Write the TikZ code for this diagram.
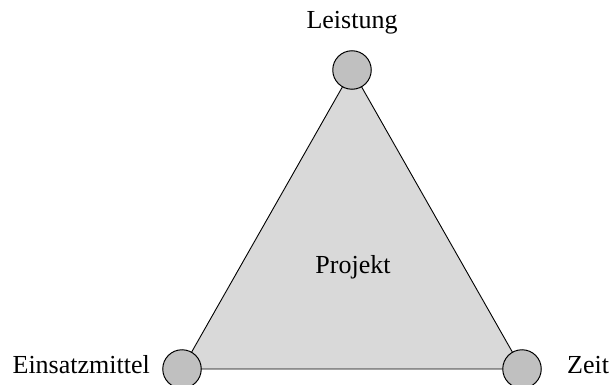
\documentclass[tikz,border=0pt]{standalone}
\usepackage{fontspec}
\setmainfont{Liberation Serif}
\definecolor{areagray}{HTML}{D9D9D9}
\definecolor{cornergray}{HTML}{C0C0C0}
\begin{document}
\begin{tikzpicture}[x=1pt,y=-1pt,
  corner/.style={circle,draw=black,line width=1pt,fill=cornergray,minimum size=38.5pt,inner sep=0pt},
  label text/.style={font=\fontsize{26}{30}\selectfont,anchor=base,inner sep=0pt}]
\useasboundingbox (0,0) rectangle (613,385);
% corners of the triangle
\coordinate (pL) at (352,70);
\coordinate (pE) at (182,369);
\coordinate (pZ) at (522,369);
% the project area
\filldraw[fill=areagray,draw=black,line width=0.9pt] (pL) -- (pE) -- (pZ) -- cycle;
% corner markers
\node[corner] (L) at (pL) {};
\node[corner] (E) at (pE) {};
\node[corner] (Z) at (pZ) {};
% labels
\node[label text] (tL) at (352,29) {Leistung};
\node[label text,anchor=base east] (tE) at (150,373) {Einsatzmittel};
\node[label text,anchor=base west] (tZ) at (567,373) {Zeit};
\node[label text] (tP) at (353,273) {Projekt};
\end{tikzpicture}
\end{document}
